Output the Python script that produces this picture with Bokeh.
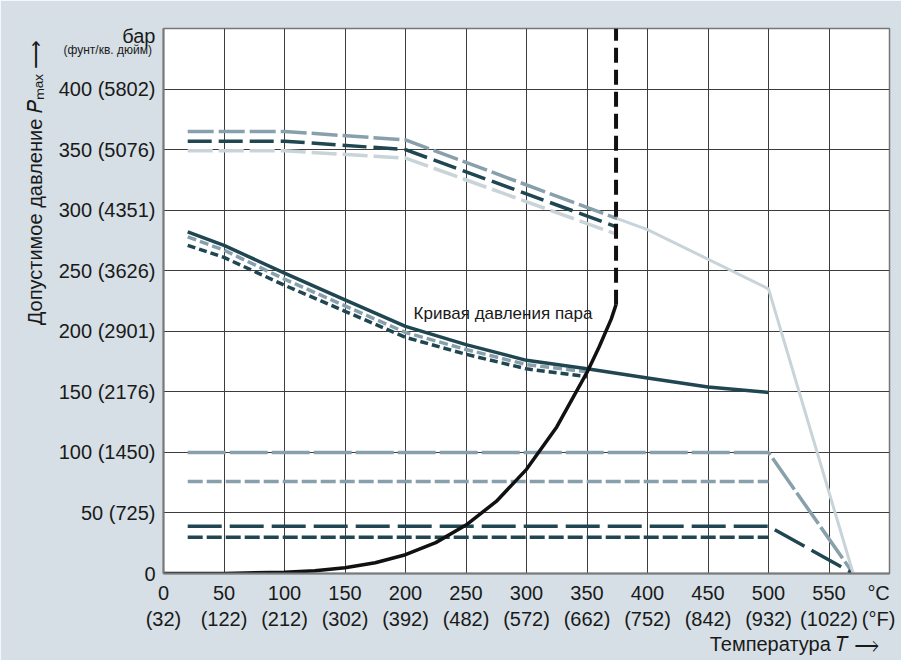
from bokeh.plotting import figure
from bokeh.models import Label, FixedTicker, Range1d, Title
from bokeh.embed import file_html
from bokeh.resources import INLINE

# ---------------- data ----------------
x_ticks_c = [0, 50, 100, 150, 200, 250, 300, 350, 400, 450, 500, 550]
x_ticks_f = ["32", "122", "212", "302", "392", "482", "572", "662", "752", "842", "932", "1022"]
y_ticks_bar = [0, 50, 100, 150, 200, 250, 300, 350, 400]
y_ticks_psi = ["", "725", "1450", "2176", "2901", "3626", "4351", "5076", "5802"]

# upper group (long dash)
up_T = [20, 100, 200, 375]
up_med_P = [365, 365, 358, 293]
up_dark_P = [357, 357, 350, 286]
up_light_P = [349, 349, 343, 280]

# light solid continuation
light_T = [375, 400, 500, 570]
light_P = [293, 284, 235, 0]

# middle group
mid_T = [20, 50, 100, 150, 200, 250, 300, 350, 400, 450, 500]
mid_dark_P = [282, 271, 248, 226, 204, 189, 176, 169, 161.5, 154, 149.5]
mid_dash_T = [20, 50, 100, 150, 200, 250, 300, 350]
mid_med_dash_P = [278, 267, 243, 221, 199, 185, 172.5, 166.5]
mid_dark_dash_P = [271, 261, 238, 216.5, 195, 181, 169, 162.5]

# lower group
low_T = [20, 500]
low_T_ext = [20, 500, 570]
low_med_long_P = [100, 100, 0]
low_med_short_P = [76, 76]
low_dark_long_P = [39, 39, 0]
low_dark_short_P = [30, 30]

# vapour pressure curve
vap_T = [0, 50, 100, 125, 150, 175, 200, 225, 250, 275, 300, 325, 350, 360, 370, 374]
vap_P = [0.0, 0.1, 1.0, 2.3, 4.8, 8.9, 15.5, 25.5, 40, 59.5, 86, 121, 166, 187, 210, 222]
crit_T = [374, 374]
crit_P = [222, 450]

# ---------------- style ----------------
BG = "#d5dfe5"
DARK = "#1f4651"
MED = "#87a0ab"
LIGHT = "#c8d4d9"
TXT = "#1a1a1a"
FONT = "Liberation Sans"

p = figure(width=901, height=660,
           x_range=Range1d(0, 600), y_range=Range1d(0, 450),
           output_backend="svg", toolbar_location=None,
           min_border_left=163, min_border_right=12,
           min_border_top=28, min_border_bottom=87,
           background_fill_color="white", border_fill_color=BG)
p.outline_line_color = "#777777"
p.outline_line_width = 1.5

UNIT_Y_POS = 443.6
DEG_X_POS = 591
p.xaxis.ticker = FixedTicker(ticks=x_ticks_c + [DEG_X_POS])
p.yaxis.ticker = FixedTicker(ticks=y_ticks_bar + [UNIT_Y_POS])
p.xgrid.ticker = FixedTicker(ticks=x_ticks_c)
p.ygrid.ticker = FixedTicker(ticks=y_ticks_bar)
xo = {c: f"{c}\n({f})" for c, f in zip(x_ticks_c, x_ticks_f)}
xo[DEG_X_POS] = "°C\n(°F)"
p.xaxis.major_label_overrides = xo
yo = {b: (f"{b} ({s})" if s else f"{b}") for b, s in zip(y_ticks_bar, y_ticks_psi)}
yo[UNIT_Y_POS] = "бар"
p.yaxis.major_label_overrides = yo

for ax in (p.xaxis[0], p.yaxis[0]):
    ax.axis_line_color = "#7a7a7a"
    ax.axis_line_width = 2
    ax.major_tick_line_color = None
    ax.minor_tick_line_color = None
    ax.major_tick_out = 0
    ax.major_tick_in = 0
    ax.major_label_text_font = FONT
    ax.major_label_text_font_size = "20px"
    ax.major_label_text_color = TXT
p.xaxis.major_label_standoff = 8
p.yaxis.major_label_standoff = 8

# axis titles as side-panel titles
p.add_layout(Title(text="Температура  𝑇 ⟶", align="right", text_font=FONT,
                   text_font_size="20px", text_font_style="normal", text_color=TXT,
                   standoff=-3), "below")
p.add_layout(Title(text="Допустимое давление  𝑃ₘₐₓ  ⟶", align="right", text_font=FONT,
                   text_font_size="20px", text_font_style="normal", text_color=TXT,
                   standoff=20), "left")
p.add_layout(Title(text="(фунт/кв. дюйм)", align="left", offset=-100, standoff=-56,
                   text_font=FONT, text_font_size="12px", text_font_style="normal",
                   text_color=TXT), "above")

p.xgrid.grid_line_color = "#3c3c3c"
p.ygrid.grid_line_color = "#3c3c3c"
p.xgrid.grid_line_width = 1
p.ygrid.grid_line_width = 1

# lower group
p.line(low_T_ext, low_med_long_P, line_color=MED, line_width=3.5, line_dash="38 4")
p.line(low_T, low_med_short_P, line_color=MED, line_width=3.5, line_dash="15 4")
p.line(low_T_ext, low_dark_long_P, line_color=DARK, line_width=3.5, line_dash="34 8")
p.line(low_T, low_dark_short_P, line_color=DARK, line_width=3.5, line_dash="15 4")

# upper group
p.line(light_T, light_P, line_color=LIGHT, line_width=3)
p.line(up_T, up_light_P, line_color=LIGHT, line_width=3.5, line_dash="25 6")
p.line(up_T, up_dark_P, line_color=DARK, line_width=3.5, line_dash="24 7")
p.line(up_T, up_med_P, line_color=MED, line_width=3.5, line_dash="26 5")

# middle group
p.line(mid_dash_T, mid_dark_dash_P, line_color=DARK, line_width=3.5, line_dash="8 4")
p.line(mid_dash_T, mid_med_dash_P, line_color=MED, line_width=3.5, line_dash="9 4")
p.line(mid_T, mid_dark_P, line_color=DARK, line_width=3.5, line_join="round")

# vapour pressure curve
p.line(vap_T, vap_P, line_color="#111111", line_width=3.5, line_join="round")
p.line(crit_T, crit_P, line_color="#111111", line_width=4, line_dash="15 7")

p.add_layout(Label(x=206.7, y=214.6, text="Кривая давления пара", text_font=FONT,
                   text_font_size="17px", text_color=TXT, text_baseline="middle"))

open("out.html", "w").write(file_html(p, INLINE))
